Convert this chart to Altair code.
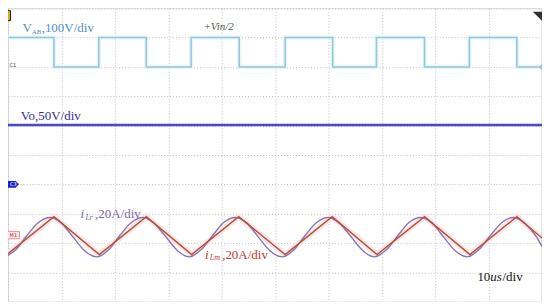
import altair as alt
import pandas as pd

# ---- data (time in us, amplitude in divisions from bottom) ----
vab_t = [0, 8.6, 17.0, 25.9, 34.3, 43.3, 51.9, 60.8, 69.0, 78.0, 86.4, 95.3, 100]
vab_v = [9, 8, 9, 8, 9, 8, 9, 8, 9, 8, 9, 8, 8]

vo_t = [0, 100]
vo_v = [6.02, 6.02]

ilm_t = [0, 8.6, 17.1, 25.9, 34.4, 43.2, 51.9, 60.7, 69.1, 78.0, 86.5, 95.3, 100]
ilm_v = [1.64, 2.90, 1.61, 2.90, 1.61, 2.90, 1.61, 2.90, 1.61, 2.90, 1.61, 2.90, 2.17]

ilr_t = [0, 1.4, 3.5, 5.7, 7.9, 10.1, 12.2, 14.4, 16.6, 18.8, 20.9, 23.1, 25.25,
         27.4, 29.6, 31.8, 33.9, 36.1, 38.3, 40.4, 42.6, 44.8, 46.9, 49.1, 51.3,
         53.5, 55.6, 57.8, 59.95, 62.1, 64.3, 66.5, 68.6, 70.8, 73.0, 75.1, 77.3,
         79.5, 81.6, 83.8, 86.0, 88.1, 90.3, 92.5, 94.65, 96.8, 99.0, 100]
ilr_v = [1.58, 1.76, 2.25, 2.70, 2.87, 2.67, 2.20, 1.73, 1.53, 1.76, 2.25, 2.70, 2.87,
         2.67, 2.20, 1.73, 1.53, 1.76, 2.25, 2.70, 2.87, 2.67, 2.20, 1.73, 1.53,
         1.76, 2.25, 2.70, 2.87, 2.67, 2.20, 1.73, 1.53, 1.76, 2.25, 2.70, 2.87,
         2.67, 2.20, 1.73, 1.53, 1.76, 2.25, 2.70, 2.87, 2.67, 2.20, 1.88]

x_ticks = [0, 10, 20, 30, 40, 50, 60, 70, 80, 90, 100]
y_ticks = [0, 1, 2, 3, 4, 5, 6, 7, 8, 9, 10]

# text labels: (text, t, v, size, color, italic)
labels = [
    ("V", 2.7, 9.19, 13, "#4f92c4", "normal"),
    ("AB", 4.45, 9.13, 7, "#4f92c4", "normal"),
    (",100V/div", 6.3, 9.19, 13, "#4f92c4", "normal"),
    ("+Vin/2", 36.6, 9.25, 11, "#555555", "italic"),
    ("Vo,50V/div", 2.4, 6.2, 13, "#3b2d9a", "normal"),
    ("i", 13.6, 2.85, 13, "#7b6aa6", "italic"),
    ("Lr", 14.5, 2.80, 8, "#7b6aa6", "italic"),
    (",20A/div", 16.3, 2.85, 13, "#7b6aa6", "normal"),
    ("i", 36.9, 1.46, 13, "#a0402a", "italic"),
    ("Lm", 37.8, 1.41, 8, "#c8362a", "italic"),
    (",20A/div", 40.1, 1.46, 13, "#c8362a", "normal"),
    ("10", 87.9, 0.71, 13, "#111111", "normal"),
    ("us", 90.3, 0.71, 13, "#111111", "italic"),
    ("/div", 92.6, 0.71, 13, "#111111", "normal"),
]

W, H = 535, 294
xs = alt.Scale(domain=[0, 100], nice=False, zero=False)
ys = alt.Scale(domain=[0, 10], nice=False, zero=False)

X = lambda: alt.X("t:Q", scale=xs,
                  axis=alt.Axis(values=x_ticks, labels=False, ticks=False, domain=False,
                                title=None, grid=True, gridColor="#bdbdbd",
                                gridDash=[1, 2], gridWidth=1))
Y = lambda: alt.Y("v:Q", scale=ys,
                  axis=alt.Axis(values=y_ticks, labels=False, ticks=False, domain=False,
                                title=None, grid=True, gridColor="#bdbdbd",
                                gridDash=[1, 2], gridWidth=1))

vab_df = pd.DataFrame({"t": vab_t, "v": vab_v})
vo_df = pd.DataFrame({"t": vo_t, "v": vo_v})
ilm_df = pd.DataFrame({"t": ilm_t, "v": ilm_v})
ilr_df = pd.DataFrame({"t": ilr_t, "v": ilr_v})

layers = []
# faint glow
layers.append(alt.Chart(vab_df).mark_line(interpolate="step-after", color="#e3f6fa",
                                          strokeWidth=4).encode(x=X(), y=Y()))
layers.append(alt.Chart(ilm_df).mark_line(color="#fbe6ec", strokeWidth=6).encode(x=X(), y=Y()))
# right edge
layers.append(alt.Chart(pd.DataFrame({"t": [100], "v": [0]})).mark_rule(color="#c8c8c8").encode(
    x=X(), y=alt.value(0), y2=alt.value(H)))
layers.append(alt.Chart(vab_df).mark_line(interpolate="step-after", color="#93c6d8",
                                          strokeWidth=1.5).encode(x=X(), y=Y()))
layers.append(alt.Chart(vo_df).mark_line(color="#4c48c8", strokeWidth=2.6).encode(x=X(), y=Y()))
layers.append(alt.Chart(ilr_df).mark_line(color="#8a74b8", strokeWidth=1.4,
                                          interpolate="monotone").encode(x=X(), y=Y()))
layers.append(alt.Chart(ilm_df).mark_line(color="#b0502c", strokeWidth=1.4).encode(x=X(), y=Y()))

# markers
layers.append(alt.Chart(pd.DataFrame({"t": [100], "v": [8]})).mark_point(
    shape="diamond", filled=True, color="#8ec3d6", size=40, opacity=1).encode(x=X(), y=Y()))
layers.append(alt.Chart(pd.DataFrame({"t": [1.0], "v": [4.0]})).mark_point(
    shape="M-1,-0.6L0.4,-0.6L1,0L0.4,0.6L-1,0.6Z", filled=True, color="#1c1cd0",
    size=130, opacity=1).encode(x=X(), y=Y()))
layers.append(alt.Chart(pd.DataFrame({"t": [1.0], "v": [2.27]})).mark_point(
    shape="M-1,-0.6L1,-0.6L1,0.6L-1,0.6Z", filled=True, fill="#fde6e6", stroke="#e08080",
    strokeWidth=0.8, size=150, opacity=1).encode(x=X(), y=Y()))
layers.append(alt.Chart(pd.DataFrame({"t": [0.1], "v": [9.75]})).mark_point(
    shape="M-0.4,-1L0.4,-1L0.4,1L-0.4,1Z", filled=True, fill="#e8a020", stroke="#222222",
    strokeWidth=1, size=100, opacity=1).encode(x=X(), y=Y()))
layers.append(alt.Chart(pd.DataFrame({"t": [99.4], "v": [9.68]})).mark_point(
    shape="M-1,-1L1,-1L1,1Z", filled=True, color="#333333", size=144, opacity=1).encode(
    x=X(), y=Y()))

small = pd.DataFrame({"t": [0.3, 1.0, 1.0], "v": [8.06, 4.0, 2.27], "s": ["C1", "C3", "M1"],
                      "c": ["#333333", "#ffffff", "#c03030"]})
layers.append(alt.Chart(small).mark_text(fontSize=5, align="left", baseline="middle",
                                         font="DejaVu Sans").encode(
    x=X(), y=Y(), text="s:N", color=alt.Color("c:N", scale=None)).transform_filter(
    alt.datum.s == "C1"))
layers.append(alt.Chart(small).mark_text(fontSize=5, align="center", baseline="middle",
                                         font="DejaVu Sans").encode(
    x=X(), y=Y(), text="s:N", color=alt.Color("c:N", scale=None)).transform_filter(
    alt.datum.s != "C1"))

for txt, t, v, size, col, style in labels:
    layers.append(alt.Chart(pd.DataFrame({"t": [t], "v": [v], "s": [txt]})).mark_text(
        align="left", baseline="alphabetic", fontSize=size, color=col, fontStyle=style,
        font="Liberation Serif").encode(x=X(), y=Y(), text="s:N"))

chart = alt.layer(*layers).properties(width=W, height=H, padding=0,
                                      autosize=alt.AutoSizeParams(type="none")).configure_view(
    stroke=None).configure(background="white")

chart.save("out.html", embed_options={"renderer": "svg", "actions": False})
